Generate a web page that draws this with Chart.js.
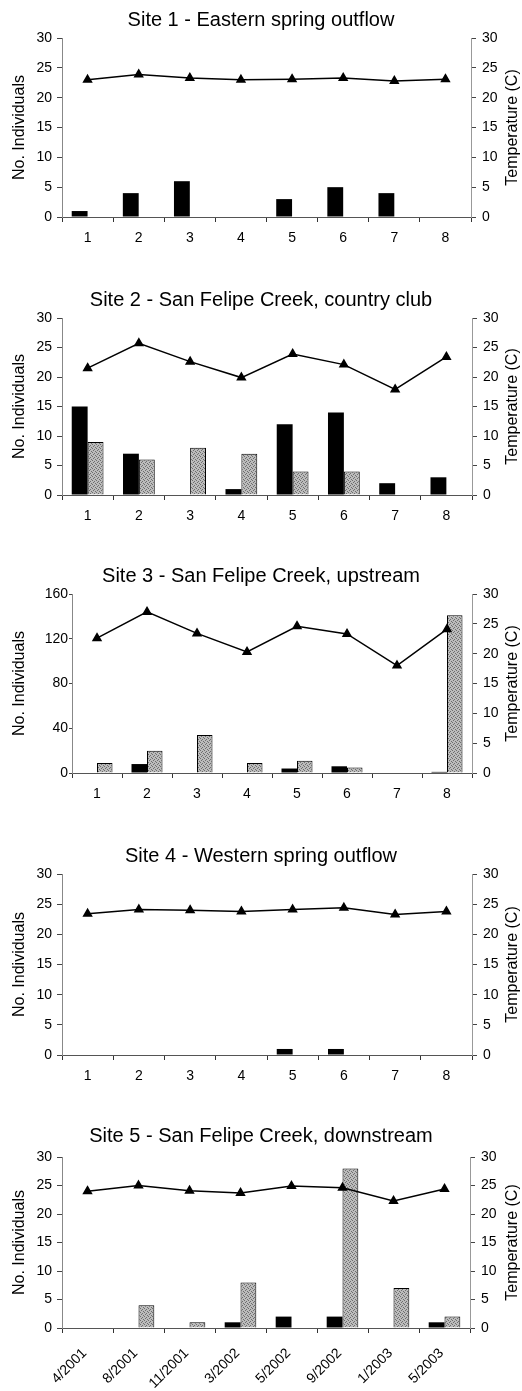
<!DOCTYPE html>
<html>
<head>
<meta charset="utf-8">
<title>San Felipe Creek sites</title>
<script src="https://cdn.jsdelivr.net/npm/chart.js@4.4.1/dist/chart.umd.min.js"></script>
<style>
  html, body { margin: 0; padding: 0; background: #fff; }
  #page { position: relative; width: 522px; height: 1391px; overflow: hidden; }
  .panel { position: absolute; left: 0; width: 522px; }
  .panel canvas { display: block; }
</style>
</head>
<body>
<div id="page">
  <div class="panel" style="top:0px"><canvas id="site1" width="522" height="280"></canvas></div>
  <div class="panel" style="top:280px"><canvas id="site2" width="522" height="270"></canvas></div>
  <div class="panel" style="top:550px"><canvas id="site3" width="522" height="280"></canvas></div>
  <div class="panel" style="top:830px"><canvas id="site4" width="522" height="270"></canvas></div>
  <div class="panel" style="top:1100px"><canvas id="site5" width="522" height="291"></canvas></div>
</div>
<script>
// sampling events
var sampleLabels = ['1', '2', '3', '4', '5', '6', '7', '8'];
var dateLabels = ['4/2001', '8/2001', '11/2001', '3/2002', '5/2002', '9/2002', '1/2003', '5/2003'];

var siteTitles = [
    'Site 1 - Eastern spring outflow',
    'Site 2 - San Felipe Creek, country club',
    'Site 3 - San Felipe Creek, upstream',
    'Site 4 - Western spring outflow',
    'Site 5 - San Felipe Creek, downstream'
];

// counts (dark bars / stippled bars) and water temperature
var site1Dark  = [1, 4, 6, 0, 3, 5, 4, 0];
var site1Light = [0, 0, 0, 0, 0, 0, 0, 0];
var site1Temp  = [23.0, 23.9, 23.3, 23.0, 23.1, 23.3, 22.8, 23.1];

var site2Dark  = [15, 7, 0, 1, 12, 14, 2, 3];
var site2Light = [9, 6, 8, 7, 4, 4, 0, 0];
var site2Temp  = [21.5, 25.7, 22.6, 19.9, 23.9, 22.1, 17.9, 23.4];

var site3Dark  = [0, 8, 0, 0, 4, 6, 0, 1];
var site3Light = [9, 20, 34, 9, 11, 5, 0, 141];
var site3Temp  = [22.6, 27.0, 23.4, 20.3, 24.6, 23.3, 18.0, 24.1];

var site4Dark  = [0, 0, 0, 0, 1, 1, 0, 0];
var site4Light = [0, 0, 0, 0, 0, 0, 0, 0];
var site4Temp  = [23.4, 24.1, 24.0, 23.8, 24.1, 24.4, 23.3, 23.8];

var site5Dark  = [0, 0, 0, 1, 2, 2, 0, 1];
var site5Light = [0, 4, 1, 8, 0, 28, 7, 2];
var site5Temp  = [24.0, 25.0, 24.1, 23.7, 24.9, 24.6, 22.3, 24.4];

var countMax   = [30, 30, 160, 30, 30];
var countStep  = [5, 5, 40, 5, 5];
var tempTicks  = { min: 0, max: 30, step: 5 };

document.addEventListener("DOMContentLoaded", function () {

    Chart.defaults.font.family = '"Liberation Sans", Arial, sans-serif';
    Chart.defaults.color = '#000';

    // stippled grey fill like the scanned figure
    var tile = document.createElement('canvas');
    tile.width = 4;
    tile.height = 4;
    var tc = tile.getContext('2d');
    tc.fillStyle = '#bcbcbc';
    tc.fillRect(0, 0, 4, 4);
    tc.fillStyle = '#6e6e6e';
    tc.fillRect(0, 0, 1, 1);
    tc.fillRect(2, 1, 1, 1);
    tc.fillRect(1, 2, 1, 1);
    tc.fillRect(3, 3, 1, 1);
    var stipple = tc.createPattern(tile, 'repeat');

    // right-hand title reads bottom to top, same as the left one
    var rightTitle = {
        id: 'rightTitle',
        afterDraw: function (chart) {
            var s = chart.scales.yT;
            var c = chart.ctx;
            c.save();
            c.translate(s.right - 9, (s.top + s.bottom) / 2);
            c.rotate(-Math.PI / 2);
            c.font = '16px "Liberation Sans", Arial, sans-serif';
            c.fillStyle = '#000';
            c.textAlign = 'center';
            c.textBaseline = 'middle';
            c.fillText('Temperature (C)', 0, 0);
            c.restore();
        }
    };

    // plot box of every panel, in canvas pixels
    var boxes = [
        { titleTop: 8,  titleBottom: 6, left: 62, right: 51, bottom: 63 },
        { titleTop: 8,  titleBottom: 6, left: 62, right: 50, bottom: 55 },
        { titleTop: 14, titleBottom: 6, left: 72, right: 50, bottom: 57 },
        { titleTop: 14, titleBottom: 6, left: 62, right: 50, bottom: 45 },
        { titleTop: 24, titleBottom: 9, left: 62, right: 52, bottom: 63 }
    ];

    var darks  = [site1Dark, site2Dark, site3Dark, site4Dark, site5Dark];
    var lights = [site1Light, site2Light, site3Light, site4Light, site5Light];
    var temps  = [site1Temp, site2Temp, site3Temp, site4Temp, site5Temp];

    for (var i = 0; i < 5; i++) {
        (function (i) {
            var box = boxes[i];
            var last = (i === 4);

            new Chart(document.getElementById('site' + (i + 1)), {
                type: 'bar',
                data: {
                    labels: last ? dateLabels : sampleLabels,
                    datasets: [{
                        type: 'line',
                        label: 'Temperature',
                        data: temps[i],
                        yAxisID: 'yT',
                        borderColor: '#000',
                        borderWidth: 1.5,
                        tension: 0,
                        pointStyle: 'triangle',
                        pointRadius: 4.5,
                        pointBackgroundColor: '#000',
                        pointBorderColor: '#000',
                        order: 0
                    }, {
                        label: 'Dark',
                        data: darks[i],
                        yAxisID: 'y',
                        backgroundColor: '#000',
                        borderWidth: 0,
                        barPercentage: 1,
                        categoryPercentage: 0.62,
                        order: 1
                    }, {
                        label: 'Stippled',
                        data: lights[i],
                        yAxisID: 'y',
                        backgroundColor: stipple,
                        borderColor: '#000',
                        borderWidth: 1,
                        borderSkipped: 'bottom',
                        barPercentage: 1,
                        categoryPercentage: 0.62,
                        order: 1
                    }]
                },
                plugins: [rightTitle],
                options: {
                    responsive: false,
                    animation: false,
                    layout: { padding: 0 },
                    plugins: {
                        legend: { display: false },
                        tooltip: { enabled: false },
                        title: {
                            display: true,
                            text: siteTitles[i],
                            color: '#000',
                            font: { size: 20, weight: 'normal' },
                            padding: { top: box.titleTop, bottom: box.titleBottom }
                        }
                    },
                    scales: {
                        x: {
                            offset: true,
                            grid: { offset: true, drawOnChartArea: false, drawTicks: true, tickLength: 5, color: '#333' },
                            border: { display: true, color: '#555', width: 1 },
                            ticks: {
                                font: { size: 14 },
                                padding: last ? 12 : 8,
                                labelOffset: last ? -3 : 0,
                                minRotation: last ? 45 : 0,
                                maxRotation: last ? 45 : 0,
                                autoSkip: false
                            },
                            afterFit: function (scale) { scale.height = box.bottom; }
                        },
                        y: {
                            position: 'left',
                            min: 0,
                            max: countMax[i],
                            grid: { drawOnChartArea: false, drawTicks: true, tickLength: i === 2 ? 3 : 5, color: '#444' },
                            border: { display: true, color: '#888', width: 1 },
                            ticks: { stepSize: countStep[i], font: { size: 14 }, padding: i === 2 ? 1 : 5 },
                            title: {
                                display: true,
                                text: 'No. Individuals',
                                font: { size: 16 },
                                padding: { top: 10, bottom: 0 }
                            },
                            afterFit: function (scale) { scale.width = box.left; }
                        },
                        yT: {
                            position: 'right',
                            min: tempTicks.min,
                            max: tempTicks.max,
                            grid: { drawOnChartArea: false, drawTicks: true, tickLength: 5, color: '#444' },
                            border: { display: true, color: '#999', width: 1 },
                            ticks: { stepSize: tempTicks.step, font: { size: 14 }, padding: 6 },
                            title: { display: false },
                            afterFit: function (scale) { scale.width = box.right; }
                        }
                    }
                }
            });
        })(i);
    }
});
</script>
</body>
</html>
